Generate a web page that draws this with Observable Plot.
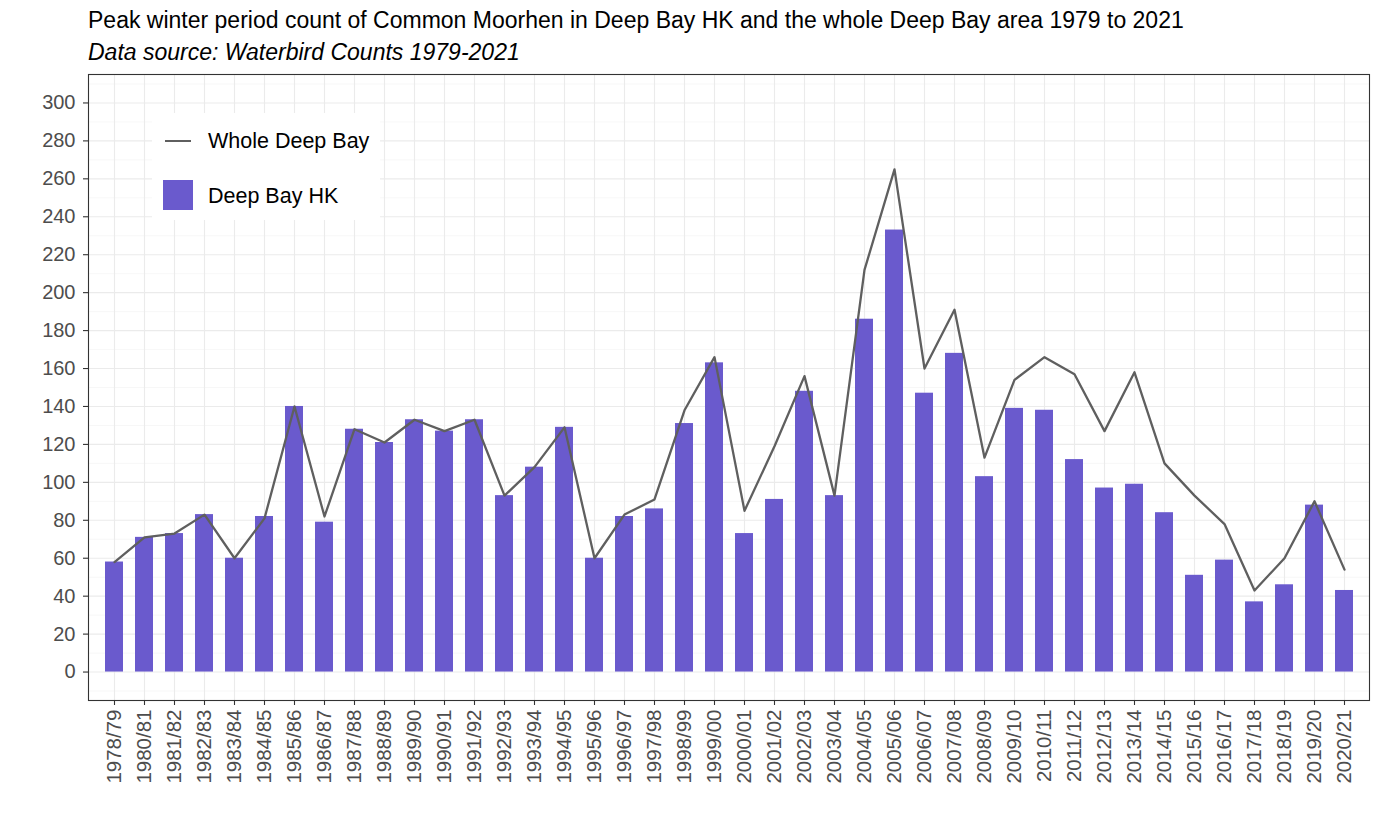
<!DOCTYPE html>
<html>
<head>
<meta charset="utf-8">
<script src="https://cdn.jsdelivr.net/npm/d3@7"></script>
<script src="https://cdn.jsdelivr.net/npm/@observablehq/plot@0.6"></script>
<style>
  html, body { margin: 0; padding: 0; background: #fff; }
  body { font-family: "Liberation Sans", Arial, sans-serif; }
  #wrap { position: relative; width: 1379px; height: 827px; }
  #title { position: absolute; left: 88px; top: 7px; font-size: 23px; color: #000; white-space: nowrap; }
  #subtitle { position: absolute; left: 88px; top: 39px; font-size: 23px; font-style: italic; color: #000; white-space: nowrap; }
  #chart { position: absolute; left: 0; top: 0; }
  #legend { position: absolute; left: 152px; top: 113px; width: 228px; height: 107px; background: #fff; }
  .item { position: absolute; left: 0; height: 30px; display: flex; align-items: center; font-size: 21.5px; color: #000; }
  .key { width: 30px; height: 30px; margin-left: 11px; margin-right: 15px; position: relative; }
  .line-key::after { content: ""; position: absolute; left: 2px; right: 2px; top: 14px; height: 2px; background: #5f5f5f; }
  .bar-key { background: #6a5acd; }
</style>
</head>
<body>
<div id="wrap">
  <div id="chart"></div>
  <div id="title">Peak winter period count of Common Moorhen in Deep Bay HK and the whole Deep Bay area 1979 to 2021</div>
  <div id="subtitle">Data source: Waterbird Counts 1979-2021</div>
  <div id="legend">
    <div class="item" style="top:13px"><div class="key line-key"></div><span>Whole Deep Bay</span></div>
    <div class="item" style="top:67px"><div class="key bar-key"></div><span style="position:relative;top:1px">Deep Bay HK</span></div>
  </div>
</div>
<script>
const seasons = ["1978/79","1980/81","1981/82","1982/83","1983/84","1984/85","1985/86","1986/87","1987/88","1988/89","1989/90","1990/91","1991/92","1992/93","1993/94","1994/95","1995/96","1996/97","1997/98","1998/99","1999/00","2000/01","2001/02","2002/03","2003/04","2004/05","2005/06","2006/07","2007/08","2008/09","2009/10","2010/11","2011/12","2012/13","2013/14","2014/15","2015/16","2016/17","2017/18","2018/19","2019/20","2020/21"];
const deepBayHK = [58,71,73,83,60,82,140,79,128,121,133,127,133,93,108,129,60,82,86,131,163,73,91,148,93,186,233,147,168,103,139,138,112,97,99,84,51,59,37,46,88,43];
const wholeDeepBay = [58,71,73,83,60,81,140,82,128,121,133,127,133,93,108,129,60,83,91,138,166,85,119,156,93,212,265,160,191,113,154,166,157,127,158,110,93,78,43,60,90,54];
const yTicks = [0,20,40,60,80,100,120,140,160,180,200,220,240,260,280,300];
const yMinor = [-10,10,30,50,70,90,110,130,150,170,190,210,230,250,270,290,310];

const rows = seasons.map((s, i) => ({season: s, hk: deepBayHK[i], whole: wholeDeepBay[i]}));

const chart = Plot.plot({
  width: 1379,
  height: 827,
  marginLeft: 88,
  marginRight: 10,
  marginTop: 74,
  marginBottom: 127,
  style: {fontFamily: "'Liberation Sans', Arial, sans-serif", background: "#fff", overflow: "visible"},
  x: {type: "band", domain: seasons, paddingInner: 0.4, paddingOuter: 0.3, label: null},
  y: {domain: [-15, 315], label: null},
  marks: [
    Plot.gridY(yMinor, {stroke: "#f2f2f2", strokeOpacity: 1, strokeWidth: 0.6}),
    Plot.gridY(yTicks, {stroke: "#ebebeb", strokeOpacity: 1, strokeWidth: 1.1}),
    Plot.gridX(seasons, {stroke: "#ebebeb", strokeOpacity: 1, strokeWidth: 1.1}),
    Plot.barY(rows, {x: "season", y1: 0, y2: "hk", fill: "#6a5acd"}),
    Plot.line(rows, {x: "season", y: "whole", stroke: "#5f5f5f", strokeWidth: 2.3}),
    Plot.frame({stroke: "#333333", strokeWidth: 1.1}),
    Plot.axisY(yTicks, {tickSize: 5, tickPadding: 8, fontSize: 20, fill: "#4d4d4d", stroke: "#333333", strokeWidth: 1.1, label: null}),
    Plot.axisX(seasons, {tickSize: 5, tickPadding: 4, tickRotate: -90, fontSize: 20.5, fill: "#4d4d4d", stroke: "#333333", strokeWidth: 1.1, label: null})
  ]
});
document.getElementById("chart").appendChild(chart);
</script>
</body>
</html>
